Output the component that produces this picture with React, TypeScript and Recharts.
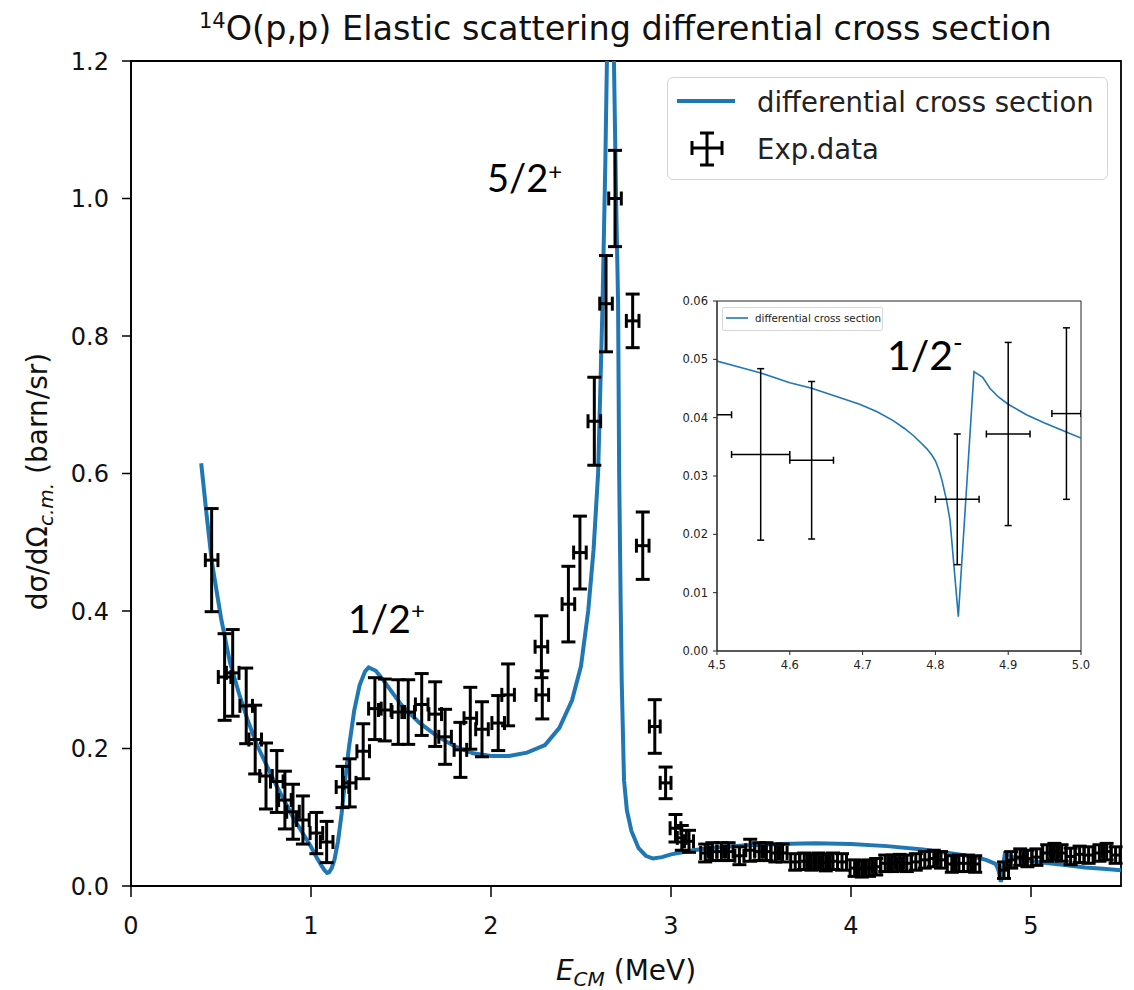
import React from 'react';
import { ComposedChart, Line, Scatter, XAxis, YAxis, ErrorBar, ReferenceArea } from 'recharts';

const FONT = '"DejaVu Sans", sans-serif';
const ANNOT_FONT = 'Lato, "Open Sans", sans-serif';
const BLUE = '#1f77b4';

// ---------- main plot axes ----------
const xTicks = [0, 1, 2, 3, 4, 5];
const yTicks = [0, 0.2, 0.4, 0.6, 0.8, 1.0, 1.2];

// ---------- main curve: differential cross section ----------
const curveE = [
  0.39, 0.42, 0.45, 0.5, 0.55, 0.6, 0.65, 0.7, 0.8, 0.9, 1.0, 1.03, 1.06, 1.075, 1.09, 1.1,
  1.115, 1.13, 1.15, 1.17, 1.19, 1.21, 1.24, 1.27, 1.3, 1.32, 1.36, 1.4, 1.45, 1.5, 1.6, 1.7,
  1.8, 1.9, 2.0, 2.1, 2.2, 2.3, 2.38, 2.45, 2.5, 2.54, 2.57, 2.595, 2.62, 2.635, 2.644, 2.66,
  2.675, 2.683, 2.695, 2.706, 2.712, 2.72, 2.726, 2.739, 2.755, 2.78, 2.82, 2.86, 2.9, 2.95,
  3.0, 3.1, 3.2, 3.4, 3.6, 3.8, 4.0, 4.2, 4.4, 4.5, 4.6, 4.7, 4.75, 4.8, 4.81, 4.82, 4.833,
  4.855, 4.865, 4.88, 4.9, 4.95, 5.0, 5.1, 5.2, 5.3, 5.4, 5.5,
];
const curveSigma = [
  0.615, 0.54, 0.47, 0.39, 0.325, 0.28, 0.24, 0.205, 0.15, 0.1, 0.057, 0.042, 0.029, 0.023,
  0.019, 0.02, 0.026, 0.038, 0.065, 0.105, 0.155, 0.2, 0.255, 0.292, 0.312, 0.318, 0.313, 0.3,
  0.282, 0.264, 0.238, 0.218, 0.203, 0.193, 0.189, 0.189, 0.194, 0.205, 0.23, 0.27, 0.32, 0.4,
  0.49, 0.6, 0.85, 1.05, 1.2, 1.45, 1.35, 1.2, 1.0, 0.85, 0.6, 0.42, 0.3, 0.154, 0.11, 0.08,
  0.055, 0.044, 0.04, 0.042, 0.046, 0.051, 0.055, 0.059, 0.061, 0.062, 0.061, 0.058, 0.053,
  0.0495, 0.046, 0.0415, 0.038, 0.0325, 0.029, 0.022, 0.006, 0.0475, 0.047, 0.044, 0.042,
  0.039, 0.0365, 0.033, 0.03, 0.027, 0.025, 0.023,
];

// ---------- main experimental data ----------
const expE = [
  0.448, 0.52, 0.565, 0.64, 0.69, 0.75, 0.81, 0.855, 0.9, 0.955, 1.03, 1.087, 1.175, 1.215,
  1.29, 1.355, 1.41, 1.485, 1.54, 1.615, 1.69, 1.745, 1.83, 1.885, 1.95, 2.04, 2.095, 2.28,
  2.285, 2.43, 2.494, 2.574, 2.639, 2.689, 2.787, 2.843, 2.91, 2.97, 3.025, 3.06, 3.1, 3.19,
  3.23, 3.28, 3.32, 3.38, 3.44, 3.49, 3.53, 3.58, 3.62, 3.69, 3.74, 3.78, 3.82, 3.86, 3.9,
  3.95, 4.02, 4.06, 4.1, 4.14, 4.19, 4.23, 4.27, 4.31, 4.36, 4.41, 4.46, 4.5, 4.56, 4.6, 4.65,
  4.69, 4.85, 4.89, 4.94, 4.98, 5.03, 5.09, 5.13, 5.17, 5.22, 5.27, 5.32, 5.38, 5.42, 5.47,
];
const expSigma = [
  0.474, 0.304, 0.31, 0.262, 0.213, 0.16, 0.152, 0.125, 0.108, 0.096, 0.077, 0.064, 0.144,
  0.15, 0.196, 0.258, 0.256, 0.253, 0.253, 0.264, 0.25, 0.217, 0.198, 0.244, 0.228, 0.237,
  0.278, 0.348, 0.278, 0.41, 0.485, 0.676, 0.847, 1.0, 0.822, 0.495, 0.232, 0.15, 0.084, 0.07,
  0.065, 0.048, 0.05, 0.05, 0.05, 0.044, 0.052, 0.05, 0.05, 0.048, 0.048, 0.035, 0.036, 0.035,
  0.036, 0.034, 0.036, 0.035, 0.026, 0.025, 0.026, 0.028, 0.033, 0.033, 0.034, 0.033, 0.035,
  0.038, 0.04, 0.038, 0.032, 0.033, 0.033, 0.032, 0.023, 0.038, 0.042, 0.04, 0.042, 0.048,
  0.05, 0.048, 0.043, 0.046, 0.045, 0.048, 0.05, 0.045,
];
const expErrX = [
  0.035, 0.035, 0.035, 0.035, 0.035, 0.035, 0.035, 0.035, 0.035, 0.035, 0.035, 0.035, 0.035,
  0.035, 0.035, 0.035, 0.035, 0.035, 0.035, 0.035, 0.035, 0.035, 0.035, 0.035, 0.035, 0.035,
  0.035, 0.035, 0.035, 0.035, 0.035, 0.035, 0.035, 0.035, 0.035, 0.035, 0.03, 0.03, 0.03,
  0.025, 0.025, 0.025, 0.025, 0.025, 0.025, 0.025, 0.025, 0.025, 0.025, 0.025, 0.025, 0.025,
  0.025, 0.025, 0.025, 0.025, 0.025, 0.025, 0.025, 0.025, 0.025, 0.025, 0.025, 0.025, 0.025,
  0.025, 0.025, 0.025, 0.025, 0.025, 0.025, 0.025, 0.025, 0.025, 0.025, 0.025, 0.025, 0.025,
  0.025, 0.025, 0.025, 0.025, 0.025, 0.025, 0.025, 0.025, 0.025, 0.025,
];
const expErrY = [
  0.075, 0.063, 0.063, 0.055, 0.05, 0.048, 0.045, 0.042, 0.04, 0.035, 0.03, 0.03, 0.03, 0.035,
  0.04, 0.045, 0.045, 0.047, 0.047, 0.045, 0.047, 0.04, 0.04, 0.045, 0.04, 0.04, 0.045, 0.045,
  0.035, 0.055, 0.053, 0.064, 0.07, 0.07, 0.039, 0.049, 0.039, 0.023, 0.02, 0.018, 0.016,
  0.013, 0.013, 0.013, 0.013, 0.013, 0.016, 0.013, 0.013, 0.013, 0.013, 0.012, 0.012, 0.012,
  0.012, 0.012, 0.012, 0.012, 0.012, 0.012, 0.012, 0.012, 0.012, 0.012, 0.012, 0.012, 0.012,
  0.012, 0.012, 0.012, 0.012, 0.012, 0.012, 0.012, 0.012, 0.012, 0.012, 0.012, 0.012, 0.012,
  0.012, 0.012, 0.012, 0.012, 0.012, 0.012, 0.012, 0.012,
];

// ---------- inset ----------
const insetXTicks = [4.5, 4.6, 4.7, 4.8, 4.9, 5.0];
const insetYTicks = [0, 0.01, 0.02, 0.03, 0.04, 0.05, 0.06];
const insetCurveE = [
  4.5, 4.53, 4.559, 4.6, 4.629, 4.66, 4.696, 4.72, 4.742, 4.758, 4.77, 4.78, 4.788, 4.795, 4.8,
  4.805, 4.809, 4.815, 4.82, 4.8315, 4.853, 4.865, 4.875, 4.887, 4.9, 4.925, 4.95, 4.979, 5.0,
];
const insetCurveSigma = [
  0.0497, 0.0487, 0.0477, 0.046, 0.0451, 0.0438, 0.0423, 0.041, 0.0395, 0.0381, 0.0369,
  0.0357, 0.0347, 0.0336, 0.0326, 0.031, 0.0293, 0.026, 0.0225, 0.0059, 0.0479, 0.0469, 0.045,
  0.0435, 0.0423, 0.0405, 0.0391, 0.0376, 0.0365,
];
const insetExpE = [4.48, 4.56, 4.63, 4.83, 4.9, 4.98];
const insetExpSigma = [0.0405, 0.0337, 0.0327, 0.026, 0.0372, 0.0407];
const insetExpErrX = [0.04, 0.04, 0.03, 0.03, 0.03, 0.02];
const insetExpErrY = [0.015, 0.0147, 0.0135, 0.0112, 0.0157, 0.0147];

const curveData = curveE.map((E, i) => ({ E, sigma: curveSigma[i] }));
const expData = expE.map((E, i) => ({ E, sigma: expSigma[i], ex: expErrX[i], ey: expErrY[i] }));
const insetCurveData = insetCurveE.map((E, i) => ({ E, sigma: insetCurveSigma[i] }));
const insetExpData = insetExpE.map((E, i) => ({
  E,
  sigma: insetExpSigma[i],
  ex: insetExpErrX[i],
  ey: insetExpErrY[i],
}));

const noShape = () => <g />;

const YLabel = (props: any) => {
  const vb = props.viewBox || { x: 0, y: 61, width: 131, height: 825 };
  const cx = vb.x + 47;
  const cy = vb.y + vb.height / 2 + 8;
  return (
    <text
      x={cx}
      y={cy}
      transform={`rotate(-90, ${cx}, ${cy})`}
      textAnchor="middle"
      fontFamily={FONT}
      fontSize={28}
      fill="#111"
    >
      dσ/dΩ
      <tspan fontSize={20} fontStyle="italic" dy={6}>
        c.m.
      </tspan>
      <tspan dy={-6}> (barn/sr)</tspan>
    </text>
  );
};

const XLabel = (props: any) => {
  const vb = props.viewBox || { x: 131, y: 886, width: 990, height: 104 };
  const cx = vb.x + vb.width / 2;
  const cy = vb.y + 94;
  return (
    <text x={cx} y={cy} textAnchor="middle" fontFamily={FONT} fontSize={28} fill="#111">
      <tspan fontStyle="italic">E</tspan>
      <tspan fontSize={20} fontStyle="italic" dy={6}>
        CM
      </tspan>
      <tspan dy={-6}> (MeV)</tspan>
    </text>
  );
};

function MainChart() {
  return (
    <ComposedChart width={1134} height={990} margin={{ top: 61, right: 13, bottom: 0, left: 0 }}>
      <XAxis
        dataKey="E"
        type="number"
        domain={[0, 5.5]}
        ticks={xTicks}
        allowDataOverflow
        height={104}
        tickSize={11}
        tickMargin={20}
        tick={{ fontFamily: FONT, fontSize: 24, fill: '#111' }}
        stroke="#000"
        tickLine={{ stroke: '#000', strokeWidth: 1.5 }}
        axisLine={{ stroke: '#000', strokeWidth: 1.5 }}
        label={<XLabel />}
      />
      <YAxis
        type="number"
        domain={[0, 1.2]}
        ticks={yTicks}
        allowDataOverflow
        width={131}
        tickSize={9}
        tickMargin={13}
        tickFormatter={(v: number) => v.toFixed(1)}
        tick={{ fontFamily: FONT, fontSize: 24, fill: '#111' }}
        tickLine={{ stroke: '#000', strokeWidth: 1.5 }}
        axisLine={{ stroke: '#000', strokeWidth: 1.5 }}
        label={<YLabel />}
      />
      <ReferenceArea
        x1={0}
        x2={5.5}
        y1={0}
        y2={1.2}
        fill="none"
        fillOpacity={0}
        stroke="#000"
        strokeWidth={1.8}
        ifOverflow="visible"
      />
      <Line
        data={curveData}
        dataKey="sigma"
        type="linear"
        stroke={BLUE}
        strokeWidth={4}
        dot={false}
        activeDot={false}
        isAnimationActive={false}
      />
      <Scatter data={expData} dataKey="sigma" shape={noShape} isAnimationActive={false}>
        <ErrorBar dataKey="ex" direction="x" width={7} stroke="#000" strokeWidth={3} isAnimationActive={false} />
        <ErrorBar dataKey="ey" direction="y" width={7} stroke="#000" strokeWidth={3} isAnimationActive={false} />
      </Scatter>
    </ComposedChart>
  );
}

const INSET_W = 440;
const INSET_H = 395;
const INSET_MARGIN = { top: 11, right: 19, bottom: 0, left: 0 };
const INSET_XAXIS_H = 34;
const INSET_YAXIS_W = 57;

function InsetChart() {
  return (
    <ComposedChart width={INSET_W} height={INSET_H} margin={INSET_MARGIN}>
      <XAxis
        dataKey="E"
        type="number"
        domain={[4.5, 5.0]}
        ticks={insetXTicks}
        allowDataOverflow
        height={INSET_XAXIS_H}
        tickSize={4}
        tickMargin={6}
        tickFormatter={(v: number) => v.toFixed(1)}
        tick={{ fontFamily: FONT, fontSize: 11.5, fill: '#222' }}
        tickLine={{ stroke: '#222' }}
        axisLine={{ stroke: '#222' }}
      />
      <YAxis
        type="number"
        domain={[0, 0.06]}
        ticks={insetYTicks}
        allowDataOverflow
        width={INSET_YAXIS_W}
        tickSize={4}
        tickMargin={5}
        tickFormatter={(v: number) => v.toFixed(2)}
        tick={{ fontFamily: FONT, fontSize: 11.5, fill: '#222' }}
        tickLine={{ stroke: '#222' }}
        axisLine={{ stroke: '#222' }}
      />
      <ReferenceArea
        x1={4.5}
        x2={5.0}
        y1={0}
        y2={0.06}
        fill="none"
        fillOpacity={0}
        stroke="#222"
        strokeWidth={1}
        ifOverflow="visible"
      />
      <Line
        data={insetCurveData}
        dataKey="sigma"
        type="linear"
        stroke={BLUE}
        strokeWidth={1.6}
        dot={false}
        activeDot={false}
        isAnimationActive={false}
      />
    </ComposedChart>
  );
}

// Error bars of the inset, drawn in an identically laid-out chart that is clipped to the plot area
function InsetErrorBars() {
  return (
    <ComposedChart width={INSET_W} height={INSET_H} margin={INSET_MARGIN}>
      <XAxis
        dataKey="E"
        type="number"
        domain={[4.5, 5.0]}
        allowDataOverflow
        height={INSET_XAXIS_H}
        tick={false}
        tickLine={false}
        axisLine={false}
      />
      <YAxis
        type="number"
        domain={[0, 0.06]}
        allowDataOverflow
        width={INSET_YAXIS_W}
        tick={false}
        tickLine={false}
        axisLine={false}
      />
      <Scatter data={insetExpData} dataKey="sigma" shape={noShape} isAnimationActive={false}>
        <ErrorBar dataKey="ex" direction="x" width={3.5} stroke="#000" strokeWidth={1.5} isAnimationActive={false} />
        <ErrorBar dataKey="ey" direction="y" width={3.5} stroke="#000" strokeWidth={1.5} isAnimationActive={false} />
      </Scatter>
    </ComposedChart>
  );
}

export default function App() {
  const clipTop = INSET_MARGIN.top;
  const clipRight = INSET_MARGIN.right;
  const clipBottom = INSET_MARGIN.bottom + INSET_XAXIS_H;
  const clipLeft = INSET_MARGIN.left + INSET_YAXIS_W;
  return (
    <div style={{ position: 'relative', width: 1134, height: 990, background: '#fff', overflow: 'hidden' }}>
      <style>{`body{margin:0;background:#fff}`}</style>
      <div style={{ position: 'absolute', left: 0, top: 0 }}>
        <MainChart />
      </div>
      {/* main legend */}
      <div
        style={{
          position: 'absolute',
          left: 667,
          top: 77,
          width: 441,
          height: 103,
          border: '1.5px solid #d5d5d5',
          borderRadius: 6,
          background: 'rgba(255,255,255,0.85)',
          boxSizing: 'border-box',
        }}
      >
        <svg width={441} height={103} style={{ position: 'absolute', left: -1.5, top: -1.5 }}>
          <line x1={10} y1={24} x2={68} y2={24} stroke={BLUE} strokeWidth={4} />
          <g stroke="#000" strokeWidth={3}>
            <line x1={40} y1={56} x2={40} y2={88} />
            <line x1={33} y1={56} x2={47} y2={56} />
            <line x1={33} y1={88} x2={47} y2={88} />
            <line x1={25} y1={71} x2={55} y2={71} />
            <line x1={25} y1={64} x2={25} y2={78} />
            <line x1={55} y1={64} x2={55} y2={78} />
          </g>
          <text x={90} y={35} fontFamily={FONT} fontSize={27.5} fill="#222">
            differential cross section
          </text>
          <text x={90} y={82} fontFamily={FONT} fontSize={27.5} fill="#222">
            Exp.data
          </text>
        </svg>
      </div>
      {/* inset */}
      <div style={{ position: 'absolute', left: 660, top: 290, width: INSET_W, height: INSET_H, background: '#fff' }}>
        <InsetChart />
        <div
          style={{
            position: 'absolute',
            left: 0,
            top: 0,
            clipPath: `inset(${clipTop}px ${clipRight}px ${clipBottom}px ${clipLeft}px)`,
          }}
        >
          <InsetErrorBars />
        </div>
        <div
          style={{
            position: 'absolute',
            left: 62,
            top: 17,
            width: 161,
            height: 24,
            border: '1px solid #d8d8d8',
            borderRadius: 2,
            background: '#fff',
            boxSizing: 'border-box',
          }}
        >
          <svg width={161} height={24} style={{ position: 'absolute', left: -1, top: -1 }}>
            <line x1={4} y1={11} x2={26} y2={11} stroke={BLUE} strokeWidth={1.6} />
            <text x={33} y={15} fontFamily={FONT} fontSize={10.3} fill="#222">
              differential cross section
            </text>
          </svg>
        </div>
      </div>
      {/* title and annotations */}
      <svg
        width={1134}
        height={990}
        style={{ position: 'absolute', left: 0, top: 0, pointerEvents: 'none' }}
      >
        <text x={199} y={40} fontFamily={FONT} fontSize={33.5} fill="#111">
          <tspan fontSize={21} dy={-12}>
            14
          </tspan>
          <tspan dy={12}>O(p,p) Elastic scattering differential cross section</tspan>
        </text>
        <text x={487} y={192} fontFamily={ANNOT_FONT} fontSize={38} fill="#000">
          5/2
          <tspan fontSize={24} dy={-12}>
            +
          </tspan>
        </text>
        <text x={348} y={633} fontFamily={ANNOT_FONT} fontSize={39} fill="#000">
          1/2
          <tspan fontSize={24} dy={-14}>
            +
          </tspan>
        </text>
        <text x={887} y={370} fontFamily={ANNOT_FONT} fontSize={41} fill="#000">
          1/2
          <tspan fontSize={26} dy={-18}>
            -
          </tspan>
        </text>
      </svg>
    </div>
  );
}
